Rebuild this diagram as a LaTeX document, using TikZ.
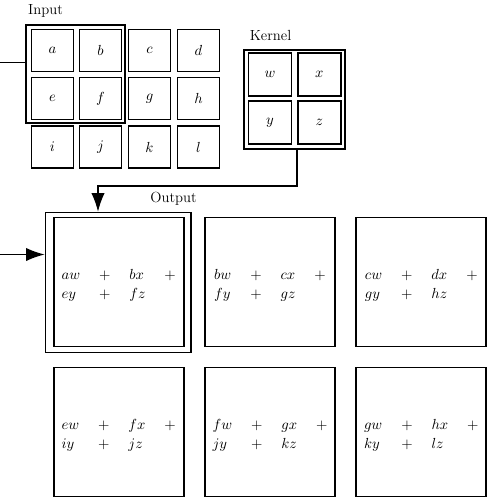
\documentclass[tikz,border=0pt]{standalone}
\usepackage{fontspec}
\usetikzlibrary{arrows.meta}
\newcommand\osum[4]{$\begin{array}{@{}llll@{}} #1 & + & #2 & + \\ #3 & + & #4 & \end{array}$}
\begin{document}
\begin{tikzpicture}[x=0.75pt,y=-0.75pt,
  font=\fontsize{11}{14.25}\selectfont,
  every node/.style={inner sep=0pt},
  cell/.style={draw,line width=1.4pt,minimum width=31.5pt,minimum height=31.5pt},
  kcell/.style={draw,line width=1.4pt,minimum width=32.25pt,minimum height=32pt},
  frame/.style={draw,line width=1.3pt},
  obox/.style={draw,line width=1.4pt,minimum width=97.5pt,minimum height=96.75pt},
  conn/.style={line width=1pt},
  arr/.style={conn,-{Latex[length=14pt,width=10pt]}}]
\useasboundingbox (0,0) rectangle (492,503);
\arraycolsep=7.1pt
% Input
\node (inlabel) at (45.5,11) {Input};
\node[cell] (a) at (52.5,50.5) {$a$};
\node[cell] (b) at (100.5,50.5) {$b$};
\node[cell] (c) at (149.5,50.5) {$c$};
\node[cell] (d) at (198.5,50.5) {$d$};
\node[cell] (e) at (52.5,98.5) {$e$};
\node[cell] (f) at (100.5,98.5) {$f$};
\node[cell] (g) at (149.5,98.5) {$g$};
\node[cell] (h) at (198.5,98.5) {$h$};
\node[cell] (i) at (52.5,147) {$i$};
\node[cell] (j) at (100.5,147) {$j$};
\node[cell] (k) at (149.5,147) {$k$};
\node[cell] (l) at (198.5,147) {$l$};
\node[frame,minimum width=74.25pt,minimum height=73.5pt] (sel) at (75.3,74) {};
% Kernel
\node (klabel) at (270.5,35) {Kernel};
\node[kcell] (w) at (270,74.7) {$w$};
\node[kcell] (x) at (319.3,74.7) {$x$};
\node[kcell] (y) at (270,122.7) {$y$};
\node[kcell] (z) at (319.3,122.7) {$z$};
\node[frame,minimum width=75.75pt,minimum height=74.25pt] (kern) at (294.5,99.2) {};
% Output
\node (olabel) at (173.5,199) {Output};
\node[frame,minimum width=109.3pt,minimum height=105pt] (osel) at (118.4,282.6) {};
\node[obox] (o1) at (118.7,282) {};
\node[obox] (o2) at (270,282) {};
\node[obox] (o3) at (421.3,282) {};
\node[obox] (o4) at (118.7,432) {};
\node[obox] (o5) at (270,432) {};
\node[obox] (o6) at (421.3,432) {};
\node (t1) at ([yshift=-2.7pt]o1.center) {\osum{aw}{bx}{ey}{fz}};
\node (t2) at ([yshift=-2.7pt]o2.center) {\osum{bw}{cx}{fy}{gz}};
\node (t3) at ([yshift=-2.7pt]o3.center) {\osum{cw}{dx}{gy}{hz}};
\node (t4) at ([yshift=-2.7pt]o4.center) {\osum{ew}{fx}{iy}{jz}};
\node (t5) at ([yshift=-2.7pt]o5.center) {\osum{fw}{gx}{jy}{kz}};
\node (t6) at ([yshift=-2.7pt]o6.center) {\osum{gw}{hx}{ky}{lz}};
% connectors
\coordinate (inL) at (0,62.7);
\coordinate (turn) at (98,186);
\coordinate (outL) at (0,254.5);
\draw[conn] (inL) -- (inL -| sel.west);
\draw[arr] (kern.south -| z.west) |- (turn) -- (turn |- osel.north);
\draw[arr] (outL) -- (outL -| osel.west);
\end{tikzpicture}
\end{document}
